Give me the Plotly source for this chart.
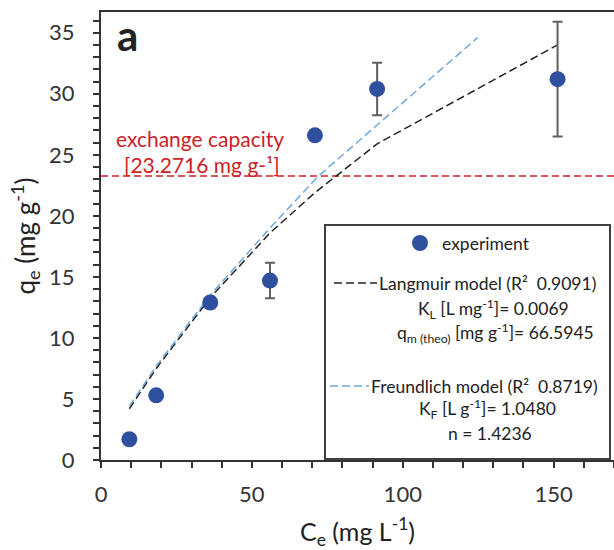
import plotly.graph_objects as go

# ---- data ----
ce_exp = [9.4, 18.3, 36.2, 56.0, 70.9, 91.5, 151.3]
qe_exp = [1.7, 5.3, 12.9, 14.7, 26.6, 30.4, 31.2]
qe_err = [0, 0, 0, 1.45, 0, 2.15, 4.7]

ce_lang = [9.4, 18.3, 36.2, 56.0, 70.9, 91.5, 151.3]
qe_lang = [4.2, 7.5, 13.3, 18.6, 21.9, 25.9, 34.0]

ce_freu = [9.4, 18.3, 36.2, 56.0, 71.8, 98.8, 124.8]
qe_freu = [4.4, 7.7, 13.5, 19.0, 23.2, 29.0, 34.6]

exchange_capacity = 23.2716

x_range = [0, 170]
y_range = [0, 36.7]

FONT = "Lato"
DARK = "#333333"
BLUE = "#2f4f9f"
LIGHTBLUE = "#6fa8dc"
RED = "#cc2229"

fig = go.Figure()

fig.add_trace(go.Scatter(
    x=x_range, y=[exchange_capacity, exchange_capacity], mode="lines",
    line=dict(color=RED, width=1.5, dash="7px,4px"), showlegend=False, hoverinfo="skip"))

fig.add_trace(go.Scatter(
    x=ce_lang, y=qe_lang, mode="lines",
    line=dict(color="#222222", width=1.5, dash="8px,4px"), showlegend=False))

fig.add_trace(go.Scatter(
    x=ce_freu, y=qe_freu, mode="lines",
    line=dict(color=LIGHTBLUE, width=1.5, dash="8px,4px"), showlegend=False))

fig.add_trace(go.Scatter(
    x=ce_exp, y=qe_exp, mode="markers",
    marker=dict(color=BLUE, size=16, line=dict(width=0)),
    error_y=dict(type="data", array=qe_err, visible=True, color="#606060", thickness=2, width=5),
    showlegend=False))

# pixel -> paper helpers (plot area: x 101..614, y 12..460)
L, R, T, B = 101, 614, 12, 460
def px(x):
    return (x - L) / (R - L)
def py(y):
    return (B - y) / (B - T)

shapes = []
annotations = []

# legend box
shapes.append(dict(type="rect", xref="paper", yref="paper",
                   x0=px(325), x1=px(610), y0=py(459), y1=py(225),
                   line=dict(color="#404040", width=2), fillcolor="white", layer="above"))
# legend marker
shapes.append(dict(type="circle", xref="paper", yref="paper",
                   x0=px(412), x1=px(428), y0=py(251), y1=py(235),
                   fillcolor=BLUE, line=dict(width=0), layer="above"))
# legend dashes
shapes.append(dict(type="line", xref="paper", yref="paper",
                   x0=px(334), x1=px(377), y0=py(283), y1=py(283),
                   line=dict(color="#222222", width=1.5, dash="8px,4px"), layer="above"))
shapes.append(dict(type="line", xref="paper", yref="paper",
                   x0=px(330), x1=px(369), y0=py(386), y1=py(386),
                   line=dict(color=LIGHTBLUE, width=1.5, dash="8px,4px"), layer="above"))

lf = dict(family=FONT, size=17.5, color="#222222")
def ann(text, x, y, xanchor="center", font=lf):
    annotations.append(dict(text=text, xref="paper", yref="paper", x=px(x), y=py(y),
                            xanchor=xanchor, yanchor="middle", showarrow=False, font=font))

ann("experiment", 440, 243, "left")
ann("Langmuir model (R²  0.9091)", 377, 283, "left")
ann("K<sub>L</sub> [L mg<sup>-1</sup>]= 0.0069", 493, 309)
ann("q<sub>m (theo)</sub> [mg g<sup>-1</sup>]= 66.5945", 495, 333)
ann("Freundlich model (R²  0.8719)", 369, 386, "left")
ann("K<sub>F</sub> [L g<sup>-1</sup>]= 1.0480", 487, 409)
ann("n = 1.4236", 490, 433)

redf = dict(family=FONT, size=21, color=RED)
ann("exchange capacity", 200, 138, font=redf)
ann("[23.2716 mg g-¹]", 202, 164, font=redf)

ann("<b>a</b>", 127, 35, font=dict(family=FONT, size=42, color="#222222"))

fig.update_layout(
    width=614, height=550,
    margin=dict(l=L, r=0, t=T, b=550 - B),
    paper_bgcolor="white", plot_bgcolor="white",
    font=dict(family=FONT, color=DARK, size=22),
    shapes=shapes, annotations=annotations,
    showlegend=False,
)

fig.update_xaxes(
    range=x_range, dtick=50, tick0=0,
    showgrid=False, zeroline=False,
    showline=True, linecolor=DARK, linewidth=2, mirror=True,
    ticks="outside", ticklen=6, tickwidth=1.5, tickcolor=DARK,
    minor=dict(dtick=10, ticks="outside", ticklen=6, tickwidth=1.5, tickcolor=DARK),
    tickfont=dict(family=FONT, size=22, color=DARK),
    ticklabelstandoff=8,
    title=dict(text="C<sub>e</sub> (mg L<sup>-1</sup>)", font=dict(family=FONT, size=25, color="#222222"), standoff=22),
)
fig.update_yaxes(
    range=y_range, dtick=5, tick0=0,
    showgrid=False, zeroline=False,
    showline=True, linecolor=DARK, linewidth=2,
    ticks="outside", ticklen=6, tickwidth=1.5, tickcolor=DARK,
    minor=dict(dtick=1, ticks="outside", ticklen=6, tickwidth=1.5, tickcolor=DARK),
    tickfont=dict(family=FONT, size=22, color=DARK),
    ticklabelstandoff=14,
    title=dict(text="q<sub>e</sub> (mg g<sup>-1</sup>)", font=dict(family=FONT, size=26, color="#222222"), standoff=6),
)

fig.write_html("out.html", config={"displayModeBar": False},
               post_script="document.body.style.margin='0px';")
